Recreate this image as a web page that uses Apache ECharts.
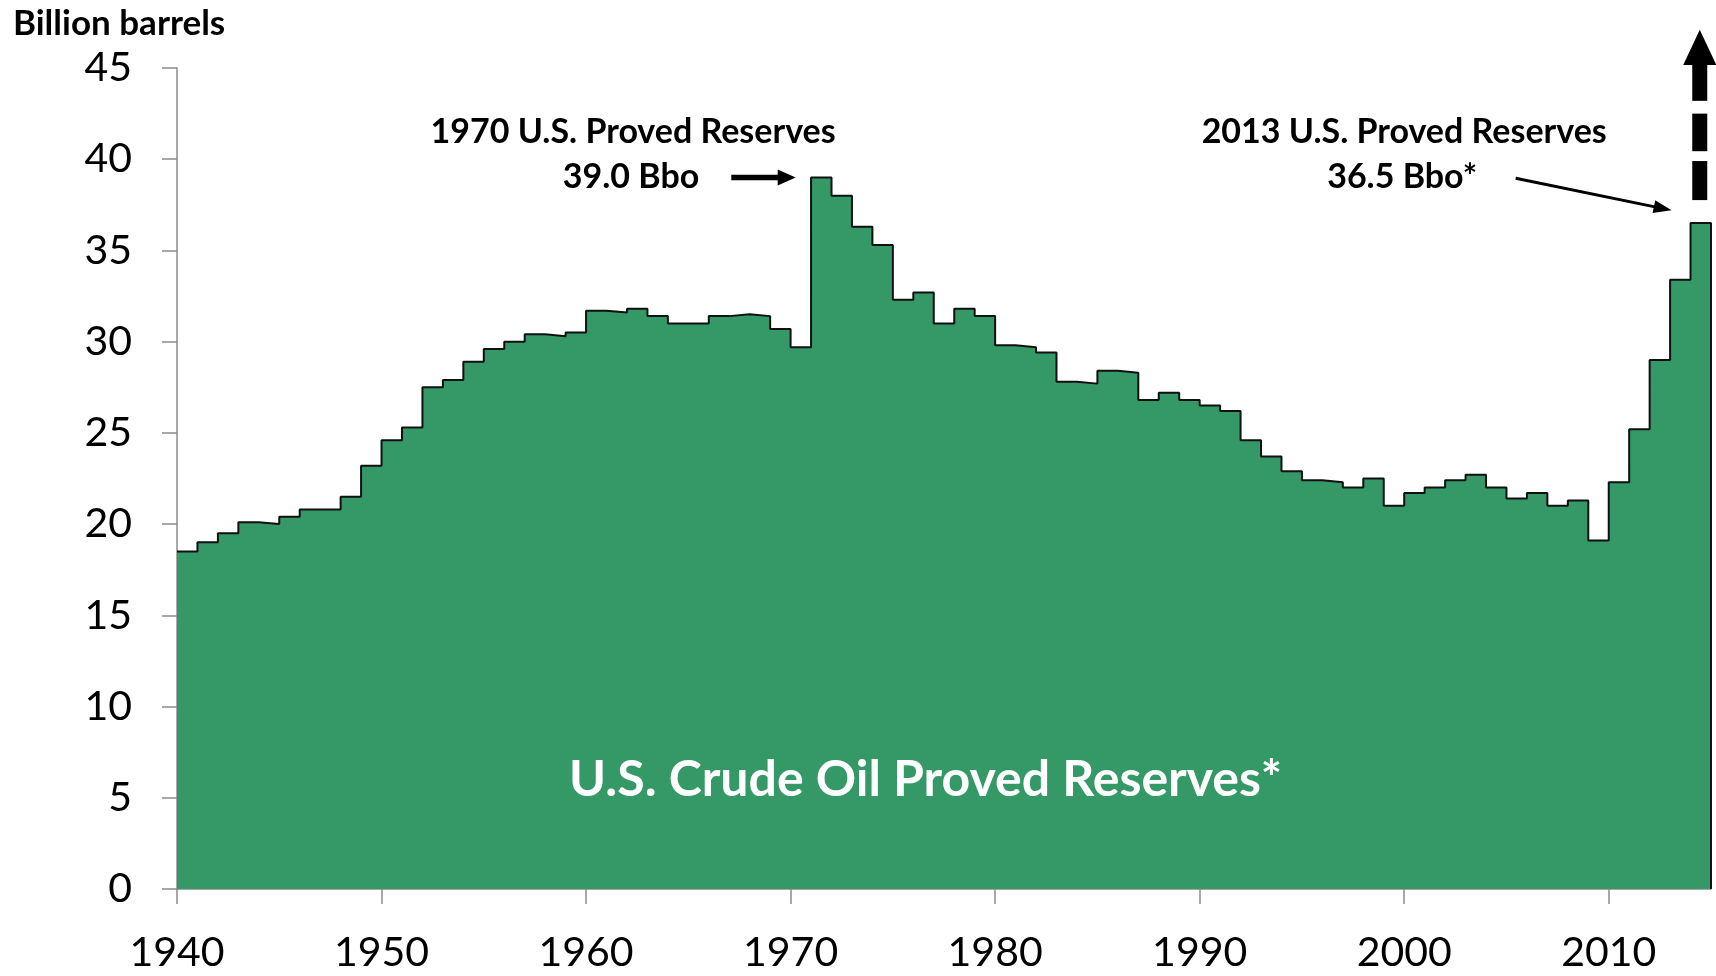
<!DOCTYPE html>
<html>
<head>
<meta charset="utf-8">
<script src="https://cdn.jsdelivr.net/npm/echarts@6/dist/echarts.min.js"></script>
<style>
html, body { margin: 0; padding: 0; background: #fff; }
#chart { width: 1716px; height: 976px; }
</style>
</head>
<body>
<div id="chart"></div>
<script>
// years shown on the x axis, each value holds until the next year
var years = [
    1940, 1941, 1942, 1943, 1944, 1945, 1946, 1947, 1948, 1949,
    1950, 1951, 1952, 1953, 1954, 1955, 1956, 1957, 1958, 1959,
    1960, 1961, 1962, 1963, 1964, 1965, 1966, 1967, 1968, 1969,
    1970, 1971, 1972, 1973, 1974, 1975, 1976, 1977, 1978, 1979,
    1980, 1981, 1982, 1983, 1984, 1985, 1986, 1987, 1988, 1989,
    1990, 1991, 1992, 1993, 1994, 1995, 1996, 1997, 1998, 1999,
    2000, 2001, 2002, 2003, 2004, 2005, 2006, 2007, 2008, 2009,
    2010, 2011, 2012, 2013, 2014
];
// billion barrels
var reserves = [
    18.5, 19.0, 19.5, 20.1, 20.0, 20.4, 20.8, 20.8, 21.5, 23.2,
    24.6, 25.3, 27.5, 27.9, 28.9, 29.6, 30.0, 30.4, 30.3, 30.5,
    31.7, 31.6, 31.8, 31.4, 31.0, 31.0, 31.4, 31.5, 31.4, 30.7,
    29.7, 39.0, 38.0, 36.3, 35.3, 32.3, 32.7, 31.0, 31.8, 31.4,
    29.8, 29.7, 29.4, 27.8, 27.7, 28.4, 28.3, 26.8, 27.2, 26.8,
    26.5, 26.2, 24.6, 23.7, 22.9, 22.4, 22.3, 22.0, 22.5, 21.0,
    21.7, 22.0, 22.4, 22.7, 22.0, 21.4, 21.7, 21.0, 21.3, 19.1,
    22.3, 25.2, 29.0, 33.4, 36.5
];
var xTicks = [1940, 1950, 1960, 1970, 1980, 1990, 2000, 2010];
var yTicks = [0, 5, 10, 15, 20, 25, 30, 35, 40, 45];

var FONT = 'Lato, "Open Sans", sans-serif';
var GREEN = '#349967';
var AXIS = '#8c8c8c';

var chart = echarts.init(document.getElementById('chart'));

// step points, closed at the right edge down to zero
var stepData = years.map(function (y, i) { return [y, reserves[i]]; });
var endYear = years[years.length - 1] + 1;
stepData.push([endYear, reserves[reserves.length - 1]]);
stepData.push([endYear, 0]);

var option = {
    animation: false,
    grid: { left: 177, right: 5, top: 68, bottom: 87 },
    xAxis: {
        type: 'value',
        min: years[0],
        max: endYear,
        axisLine: { show: true, onZero: false, lineStyle: { color: AXIS, width: 1.5 } },
        axisTick: { show: true, length: 15, customValues: xTicks, lineStyle: { color: AXIS, width: 1.5 } },
        axisLabel: {
            customValues: xTicks, margin: 43, fontSize: 41, color: '#000', fontFamily: FONT,
            formatter: function (v) { return String(v); }
        },
        splitLine: { show: false }
    },
    yAxis: {
        type: 'value',
        min: yTicks[0],
        max: yTicks[yTicks.length - 1],
        interval: 5,
        axisLine: { show: true, lineStyle: { color: AXIS, width: 1.5 } },
        axisTick: { show: true, length: 15, lineStyle: { color: AXIS, width: 1.5 } },
        axisLabel: { margin: 45, fontSize: 41, color: '#000', fontFamily: FONT },
        splitLine: { show: false }
    },
    series: [{
        name: 'U.S. Crude Oil Proved Reserves',
        type: 'line',
        step: 'end',
        data: stepData,
        showSymbol: false,
        symbol: 'none',
        lineStyle: { color: '#111', width: 2 },
        areaStyle: { color: GREEN, opacity: 1 },
        z: 2
    }]
};
chart.setOption(option);

// annotations, anchored in data space
function px(p) { return chart.convertToPixel({ gridIndex: 0 }, p); }

function arrow(p1, p2, w, headLen, headW) {
    var dx = p2[0] - p1[0], dy = p2[1] - p1[1];
    var len = Math.sqrt(dx * dx + dy * dy);
    var ux = dx / len, uy = dy / len, nx = -uy, ny = ux;
    var bx = p2[0] - ux * headLen, by = p2[1] - uy * headLen;
    return [
        { type: 'line', shape: { x1: p1[0], y1: p1[1], x2: bx + ux, y2: by + uy }, style: { stroke: '#000', lineWidth: w }, z: 10 },
        { type: 'polygon', shape: { points: [[p2[0], p2[1]], [bx + nx * headW / 2, by + ny * headW / 2], [bx - nx * headW / 2, by - ny * headW / 2]] }, style: { fill: '#000' }, z: 10 }
    ];
}

function label(text, at, font, fill) {
    var p = px(at);
    return {
        type: 'text', x: p[0], y: p[1], z: 10,
        style: { text: text, font: font, fill: fill || '#000', textAlign: 'center', textVerticalAlign: 'middle' }
    };
}

var g = [];
g.push({ type: 'text', left: 13, top: 6, z: 10, style: { text: 'Billion barrels', font: 'bold 35px ' + FONT, fill: '#000' } });
g.push(label('1970 U.S. Proved Reserves', [1962.3, 41.5], 'bold 34px ' + FONT));
g.push(label('39.0 Bbo', [1962.2, 39.0], 'bold 34px ' + FONT));
g.push(label('2013 U.S. Proved Reserves', [2000.0, 41.5], 'bold 34px ' + FONT));
g.push(label('36.5 Bbo*', [1999.9, 39.0], 'bold 34px ' + FONT));
g.push(label('U.S. Crude Oil Proved Reserves*', [1976.6, 6.0], 'bold 50px ' + FONT, '#fff'));

g = g.concat(arrow(px([1967.1, 39.0]), px([1970.25, 39.0]), 5.5, 18, 16));
g = g.concat(arrow(px([2005.45, 38.96]), px([2013.07, 37.2]), 3, 18, 13));

// dashed upward arrow above the last step
var ax = px([2014.45, 0])[0];
var dashes = [[37.76, 39.9], [40.44, 42.5], [43.2, 45.17]];
dashes.forEach(function (d) {
    var yb = px([2014.45, d[0]])[1], yt = px([2014.45, d[1]])[1];
    g.push({ type: 'rect', shape: { x: ax - 7.5, y: yt, width: 15, height: yb - yt }, style: { fill: '#000' }, z: 10 });
});
var headBase = px([2014.45, 45.17])[1], headTip = px([2014.45, 47.1])[1];
g.push({ type: 'polygon', shape: { points: [[ax, headTip], [ax - 16.5, headBase], [ax + 16.5, headBase]] }, style: { fill: '#000' }, z: 10 });

chart.setOption({ graphic: g });
</script>
</body>
</html>
